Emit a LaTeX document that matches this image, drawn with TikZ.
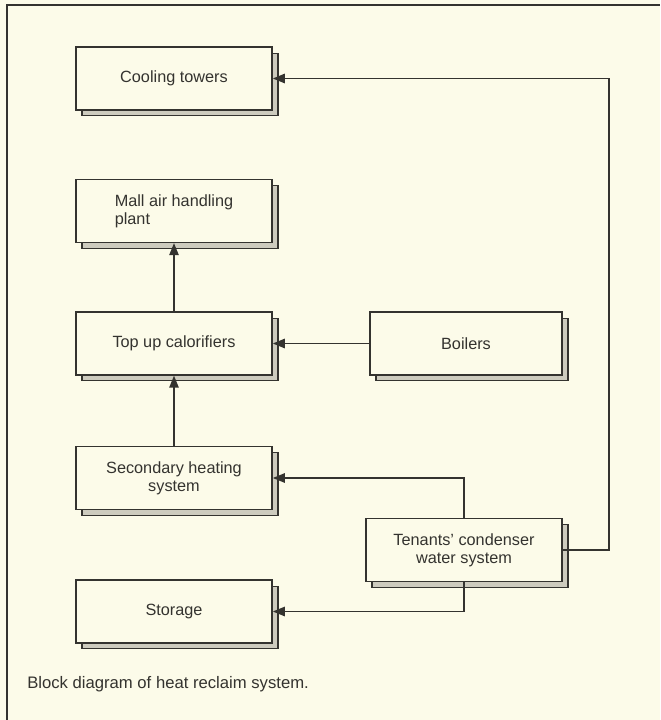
\documentclass[tikz,border=0pt]{standalone}
\usepackage{fontspec}
\setmainfont{Liberation Sans}
\usetikzlibrary{arrows.meta, shadows}
\definecolor{paper}{HTML}{FCFBE9}
\definecolor{ink}{HTML}{34332F}
\definecolor{shade}{HTML}{CDCBBE}
\tikzset{
  blockbox/.style={draw, fill=paper, line width=1.2pt, minimum width=147pt, minimum height=47pt,
    inner sep=0pt, align=center, font=\fontsize{12.2}{13.5}\selectfont,
    copy shadow={shadow xshift=4.5pt, shadow yshift=-4.5pt, fill=shade, draw=ink, line width=0.9pt}},
  flow/.style={-{Triangle[length=9pt,width=7pt]}, line width=1.2pt}
}

\begin{document}
\begin{tikzpicture}[x=0.75pt, y=-0.75pt, color=ink]
\fill[paper] (0,0) rectangle (660,720);
\useasboundingbox (0,0) rectangle (660,720);
\draw[line width=1.1pt] (7,720) -- (7,5) -- (660,5);

\node[blockbox] (cool) at (174,78.5) {Cooling towers};
\node[blockbox, align=left] (mall) at (174,211) {Mall air handling\\plant};
\node[blockbox] (calor) at (174,343.5) {Top up calorifiers};
\node[blockbox, minimum width=144pt] (boil) at (466,343.5) {Boilers};
\node[blockbox] (sec) at (174,478) {Secondary heating\\system};
\node[blockbox] (ten) at (464,550) {Tenants' condenser\\water system};
\node[blockbox] (stor) at (174,611.5) {Storage};

\node[anchor=base west, inner sep=0pt, font=\fontsize{12.5}{15}\selectfont] (caption) at (27,688)
  {Block diagram of heat reclaim system.};

\path[flow] (calor) edge (mall)
            (sec) edge (calor)
            (boil) edge (calor);
\draw[flow] (ten.north) |- (sec.east);
\draw[flow] (ten.south) |- (stor.east);
\draw[flow] (ten.east) -- ++(46,0) |- (cool.east);
\end{tikzpicture}
\end{document}
